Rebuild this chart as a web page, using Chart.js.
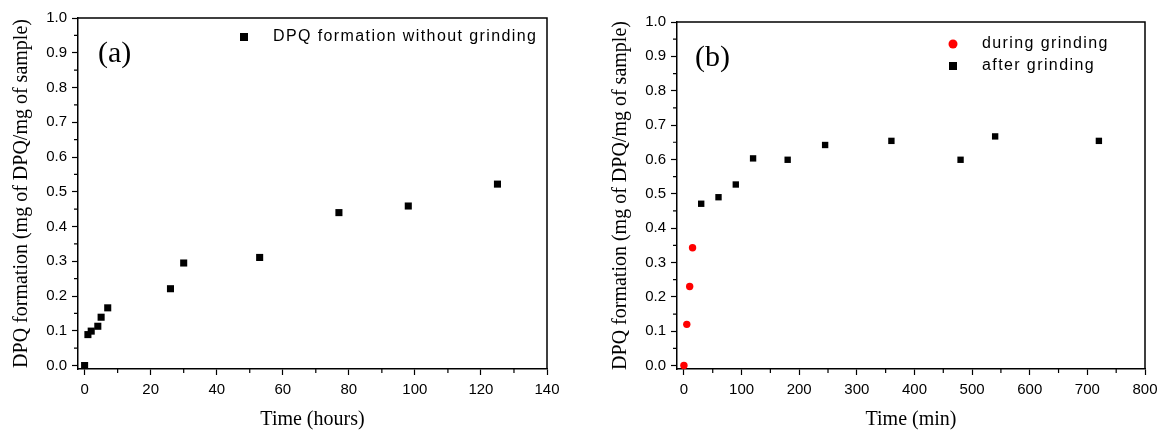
<!DOCTYPE html>
<html>
<head>
<meta charset="utf-8">
<script src="https://cdn.jsdelivr.net/npm/chart.js@4.4.1/dist/chart.umd.min.js"></script>
<style>
  body { margin: 0; background: #fff; }
  #wrap { position: relative; width: 1158px; height: 432px; }
  canvas { position: absolute; top: 0; }
</style>
</head>
<body>
<div id="wrap">
  <canvas id="chartA" width="580" height="432" style="left:0;width:580px;height:432px"></canvas>
  <canvas id="chartB" width="578" height="432" style="left:580px;width:578px;height:432px"></canvas>
</div>
<script>
// panel (a): DPQ formation without grinding
const hoursA = [0, 1, 2, 4, 5, 7, 26, 30, 53, 77, 98, 125];
const dpqA = [0, 0.089, 0.099, 0.113, 0.139, 0.166, 0.221, 0.295, 0.311, 0.44, 0.459, 0.522];

// panel (b): during / after grinding
const duringMin = [0, 5, 10, 15];
const duringDpq = [0, 0.12, 0.23, 0.343];
const afterMin = [30, 60, 90, 120, 180, 245, 360, 480, 540, 720];
const afterDpq = [0.471, 0.49, 0.527, 0.603, 0.599, 0.642, 0.654, 0.599, 0.667, 0.654];

// ticks
const yMinorTicks = [0.05, 0.15, 0.25, 0.35, 0.45, 0.55, 0.65, 0.75, 0.85, 0.95];
const xMinorTicksA = [10, 30, 50, 70, 90, 110, 130];
const xMinorTicksB = [50, 150, 250, 350, 450, 550, 650, 750];

const yTitle = 'DPQ formation (mg of DPQ/mg of sample)';
const sansFont = 'Liberation Sans, Arial, sans-serif';
const serifFont = 'Liberation Serif, Times New Roman, serif';

function toPts(xs, ys) {
    return xs.map((x, i) => ({ x: x, y: ys[i] }));
}

// frame (top + right border), minor ticks, panel label and legend
const decorPlugin = {
    id: 'decor',
    afterDraw(chart, args, opts) {
        const ctx = chart.ctx;
        const a = chart.chartArea;
        const xs = chart.scales.x, ys = chart.scales.y;
        ctx.save();
        ctx.strokeStyle = '#000';
        ctx.lineWidth = 1.5;
        ctx.beginPath();
        ctx.moveTo(a.left, a.top);
        ctx.lineTo(a.right, a.top);
        ctx.lineTo(a.right, a.bottom);
        ctx.stroke();

        ctx.lineWidth = 1.2;
        ctx.beginPath();
        yMinorTicks.forEach(v => {
            const p = ys.getPixelForValue(v);
            ctx.moveTo(a.left - 4, p);
            ctx.lineTo(a.left, p);
        });
        opts.xMinor.forEach(v => {
            const p = xs.getPixelForValue(v);
            ctx.moveTo(p, a.bottom);
            ctx.lineTo(p, a.bottom + 4);
        });
        ctx.stroke();

        ctx.fillStyle = '#000';
        ctx.font = '30px ' + serifFont;
        ctx.textBaseline = 'middle';
        ctx.textAlign = 'left';
        ctx.fillText(opts.label, opts.labelX, opts.labelY);

        ctx.font = '16px ' + sansFont;
        ctx.letterSpacing = '1.4px';
        opts.legend.forEach(item => {
            ctx.fillStyle = item.color;
            if (item.shape === 'circle') {
                ctx.beginPath();
                ctx.arc(item.x, item.y, 4.5, 0, Math.PI * 2);
                ctx.fill();
            } else {
                ctx.fillRect(item.x - 4, item.y - 4, 8, 8);
            }
            ctx.fillStyle = '#000';
            ctx.fillText(item.text, item.x + 29, item.y);
        });
        ctx.restore();
    }
};

function makeOptions(xMin, xMax, xStep, xTitle, padLeft, padTop, padRight, decor) {
    return {
        responsive: false,
        animation: false,
        layout: { padding: { left: padLeft, top: padTop, right: padRight, bottom: 0 } },
        plugins: {
            legend: { display: false },
            tooltip: { enabled: false },
            decor: decor
        },
        scales: {
            x: {
                type: 'linear',
                min: xMin,
                max: xMax,
                afterFit: s => { s.height = 63; s.paddingRight = 0; },
                border: { display: true, color: '#000', width: 1.5 },
                grid: { drawOnChartArea: false, drawTicks: true, tickLength: 6, tickColor: '#000', tickWidth: 1.2 },
                ticks: { stepSize: xStep, includeBounds: false, color: '#000', padding: 6, maxRotation: 0,
                         font: { family: sansFont, size: 15 } },
                title: { display: true, text: xTitle, color: '#000', padding: { top: 0, bottom: 0 },
                         font: { family: serifFont, size: 20 } }
            },
            y: {
                type: 'linear',
                min: -0.01,
                max: 1.0,
                afterFit: s => { s.width = 78; },
                border: { display: true, color: '#000', width: 1.5 },
                grid: { drawOnChartArea: false, drawTicks: true, tickLength: 6, tickColor: '#000', tickWidth: 1.2 },
                ticks: { stepSize: 0.1, includeBounds: false, color: '#000', padding: 5,
                         font: { family: sansFont, size: 15 },
                         callback: v => v.toFixed(1) },
                title: { display: true, text: yTitle, color: '#000', padding: { top: 10, bottom: 0 },
                         font: { family: serifFont, size: 20 } }
            }
        }
    };
}

new Chart(document.getElementById('chartA'), {
    type: 'scatter',
    data: {
        datasets: [{
            label: 'DPQ formation without grinding',
            data: toPts(hoursA, dpqA),
            pointStyle: 'rect',
            pointRadius: 5,
            backgroundColor: '#000',
            borderColor: '#000',
            borderWidth: 0,
            clip: false
        }]
    },
    options: makeOptions(-2, 140, 20, 'Time (hours)', 0, 18, 33, {
        label: '(a)', labelX: 98, labelY: 54, xMinor: xMinorTicksA,
        legend: [{ shape: 'rect', color: '#000', x: 244, y: 37, text: 'DPQ formation without grinding' }]
    }),
    plugins: [decorPlugin]
});

new Chart(document.getElementById('chartB'), {
    type: 'scatter',
    data: {
        datasets: [{
            label: 'during grinding',
            data: toPts(duringMin, duringDpq),
            pointStyle: 'circle',
            pointRadius: 3.7,
            backgroundColor: '#ff0000',
            borderColor: '#ff0000',
            borderWidth: 0,
            clip: false
        }, {
            label: 'after grinding',
            data: toPts(afterMin, afterDpq),
            pointStyle: 'rect',
            pointRadius: 4.5,
            backgroundColor: '#000',
            borderColor: '#000',
            borderWidth: 0,
            clip: false
        }]
    },
    options: makeOptions(-12, 800, 100, 'Time (min)', 19, 22, 13, {
        label: '(b)', labelX: 115, labelY: 58, xMinor: xMinorTicksB,
        legend: [
            { shape: 'circle', color: '#ff0000', x: 373, y: 44, text: 'during grinding' },
            { shape: 'rect', color: '#000', x: 373, y: 66, text: 'after grinding' }
        ]
    }),
    plugins: [decorPlugin]
});
</script>
</body>
</html>
